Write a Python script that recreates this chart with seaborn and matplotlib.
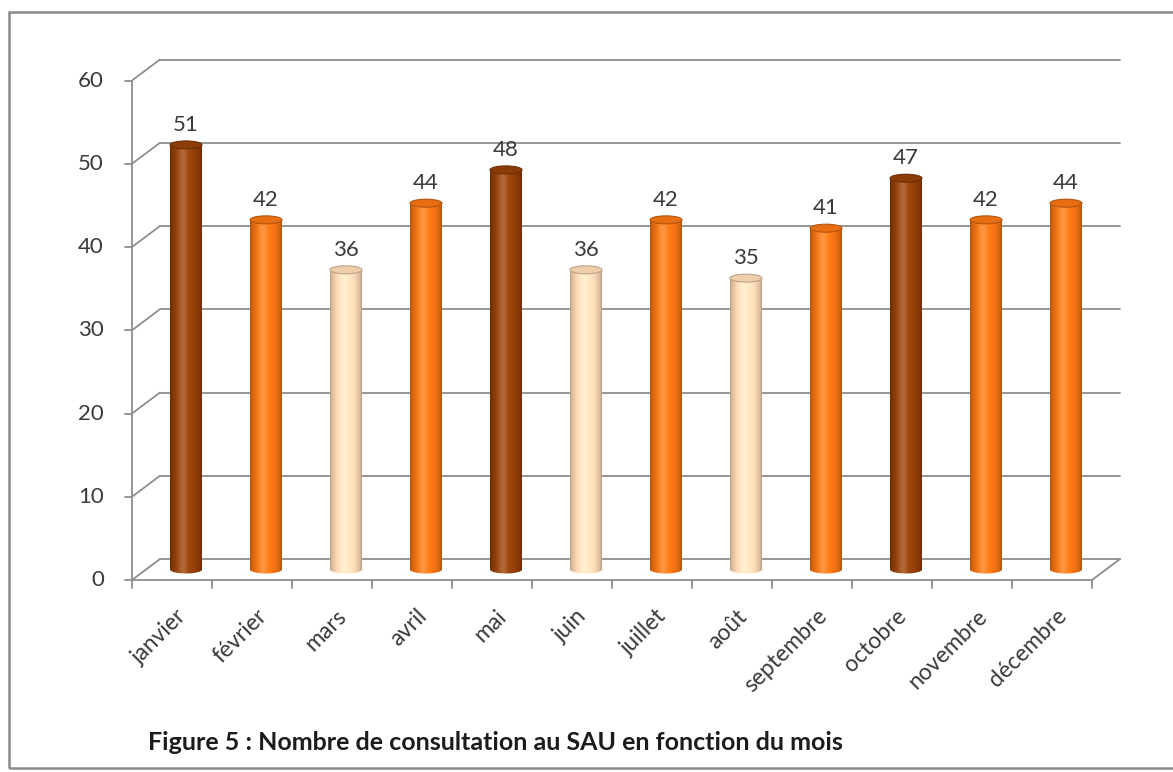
import numpy as np
import pandas as pd
import matplotlib
matplotlib.use('Agg')
import matplotlib.pyplot as plt
from matplotlib.patches import Ellipse, Rectangle
from matplotlib.path import Path
import seaborn as sns

months = ['janvier', 'février', 'mars', 'avril', 'mai', 'juin', 'juillet',
          'août', 'septembre', 'octobre', 'novembre', 'décembre']
consultations = [51, 42, 36, 44, 48, 36, 42, 35, 41, 47, 42, 44]
groups = ['haut', 'moyen', 'bas', 'moyen', 'haut', 'bas', 'moyen',
          'bas', 'moyen', 'haut', 'moyen', 'moyen']
y_ticks = [0, 10, 20, 30, 40, 50, 60]
caption = 'Figure 5 : Nombre de consultation au SAU en fonction du mois'

palette = {'haut': '#933f06', 'moyen': '#f27312', 'bas': '#fdd9b5'}
grid_color = '#8e8e8e'
text_color = '#3a3a3a'

sns.set_style('white')
plt.rcParams['font.family'] = ['Lato', 'DejaVu Sans']

W, H = 1173, 772
px_x = 960 / 12       # px per category
px_y = 499.5 / 60     # px per unit
y_bottom = -1         # a bit below 0 so the round bar bottoms are not cut

fig = plt.figure(figsize=(W / 100, H / 100), dpi=100)
ax = fig.add_axes([146 / W, (202.5 + y_bottom * px_y) / H, 960 / W,
                   (60 - y_bottom) * px_y / H])

df = pd.DataFrame({'mois': months, 'n': consultations, 'groupe': groups})
sns.barplot(data=df, x='mois', y='n', hue='groupe', order=months, palette=palette,
            width=0.4, dodge=False, saturation=1, legend=False, ax=ax, zorder=2)

# depth of the fake 3d box, in data units
DX, DY = 14 / px_x, 10.5 / px_y
x_lo, x_hi = -0.5, len(months) - 0.5

# back wall gridlines + left side diagonals
for t in y_ticks:
    ax.plot([x_lo + DX, x_hi + DX], [t + DY, t + DY], color=grid_color, lw=1.3,
            zorder=0, clip_on=False)
    ax.plot([x_lo - DX, x_lo + DX], [t - DY, t + DY], color=grid_color, lw=1.3,
            zorder=0, clip_on=False)
    ax.plot([x_lo - DX - 7 / px_x, x_lo - DX], [t - DY, t - DY], color=grid_color,
            lw=1.3, clip_on=False)
    ax.text(x_lo - DX - 28 / px_x, t - DY, str(t), ha='right', va='center',
            fontsize=16, color=text_color)

# front axis, floor
ax.plot([x_lo - DX, x_lo - DX], [-DY, y_ticks[-1] - DY], color=grid_color, lw=1.3, clip_on=False)
ax.plot([x_lo - DX, x_hi - DX], [-DY, -DY], color=grid_color, lw=1.3, clip_on=False)
ax.plot([x_hi - DX, x_hi + DX], [-DY, DY], color=grid_color, lw=1.3, zorder=0, clip_on=False)
for k in range(len(months) + 1):
    ax.plot([x_lo + k - DX, x_lo + k - DX], [-DY, -DY - 8 / px_y], color=grid_color,
            lw=1.3, clip_on=False)

for i, m in enumerate(months):
    ax.text(i - 10 / px_x, -36 / px_y, m, rotation=45, rotation_mode='anchor',
            ha='right', va='top', fontsize=16.5, color=text_color)

# cylinder look: gradient image clipped to rounded bar, plus top cap
eh = 8 / px_y
t = np.linspace(0, 1, 80)
shade = 0.72 + 0.36 * np.sin(np.pi * t) ** 0.6
glow = 0.2 * np.exp(-((t - 0.4) / 0.14) ** 2)
for p in list(ax.patches):
    x0, w, h = p.get_x(), p.get_width(), p.get_height()
    if h <= 0:
        continue
    base = np.array(p.get_facecolor()[:3])
    rgb = np.clip(base[None, :] * shade[:, None], 0, 1)
    rgb = rgb + (1 - rgb) * glow[:, None]
    im = ax.imshow(rgb[None, :, :], extent=[x0, x0 + w, -eh / 2, h], aspect='auto',
                   interpolation='bilinear', zorder=3)
    ang = np.linspace(np.pi, 2 * np.pi, 40)
    verts = [(x0, h)] + [(x0 + w / 2 + w / 2 * np.cos(a), eh / 2 * np.sin(a)) for a in ang] + [(x0 + w, h), (x0, h)]
    im.set_clip_path(Path(verts, closed=True), ax.transData)
    p.set_visible(False)
    cap = Ellipse((x0 + w / 2, h), w, eh, facecolor=np.clip(base * 0.95, 0, 1),
                  edgecolor=np.clip(base * 0.75, 0, 1), lw=0.8, zorder=4)
    ax.add_patch(cap)

for i, v in enumerate(consultations):
    ax.annotate(str(v), (i, v), xytext=(0, 10), textcoords='offset pixels',
                ha='center', va='bottom', fontsize=16, color=text_color)

ax.set_xlim(x_lo, x_hi)
ax.set_ylim(y_bottom, 60)
ax.axis('off')

fig.text(148 / W, 1 - 743 / H, caption, ha='left', va='center', fontsize=18,
         fontweight='bold', color='#1c1c1c')

frame = Rectangle((9 / W, 1 - 768 / H), 1.1, 756 / H, transform=fig.transFigure,
                  fill=False, edgecolor='#8a8a8a', lw=1.8)
fig.add_artist(frame)

fig.savefig('out.png', dpi=100)
